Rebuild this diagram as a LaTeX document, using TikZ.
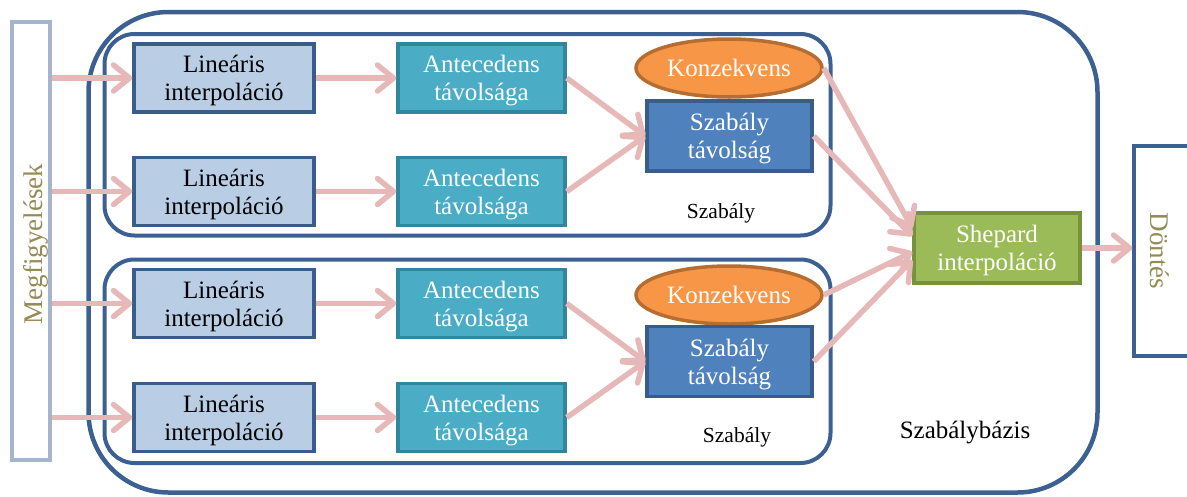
\documentclass[tikz,border=0pt]{standalone}
\usepackage{fontspec}
\setmainfont{Liberation Serif}
\usetikzlibrary{arrows.meta,shapes.geometric}

\definecolor{frameblue}{RGB}{60,96,145}
\definecolor{obsedge}{RGB}{165,181,205}
\definecolor{olivetext}{RGB}{148,138,84}
\definecolor{linfill}{RGB}{185,205,229}
\definecolor{linedge}{RGB}{56,93,138}
\definecolor{antfill}{RGB}{75,172,198}
\definecolor{antedge}{RGB}{49,133,156}
\definecolor{konfill}{RGB}{247,150,70}
\definecolor{konedge}{RGB}{182,109,49}
\definecolor{sztfill}{RGB}{79,129,189}
\definecolor{sztedge}{RGB}{56,93,138}
\definecolor{shfill}{RGB}{155,187,89}
\definecolor{shedge}{RGB}{118,146,60}
\definecolor{flowpink}{RGB}{230,185,184}

\newcommand\boxtextfont{\fontsize{25}{28}\selectfont}
\newcommand\sidetextfont{\fontsize{27}{30}\selectfont}
\newcommand\rulelabelfont{\fontsize{21.5}{24}\selectfont}
\newcommand\baselabelfont{\fontsize{25}{28}\selectfont}

\begin{document}
\begin{tikzpicture}[x=1pt,y=-1pt,
  box/.style={draw, rectangle, line width=3.5pt, inner sep=0pt, align=center,
    minimum height=68pt, text depth=0pt, font=\boxtextfont},
  linbox/.style={box, fill=linfill, draw=linedge, minimum width=180pt, text=black},
  antbox/.style={box, fill=antfill, draw=antedge, minimum width=167pt, text=white},
  sztbox/.style={box, fill=sztfill, draw=sztedge, minimum width=165pt, minimum height=70pt, text=white},
  konoval/.style={draw=konedge, fill=konfill, ellipse, line width=3.5pt, inner sep=0pt,
    minimum width=186pt, minimum height=58pt, text=white, font=\boxtextfont},
  shepbox/.style={box, fill=shfill, draw=shedge, minimum width=166pt, minimum height=70pt, text=white},
  container/.style={draw=frameblue, line width=4.5pt},
  rulelabel/.style={font=\rulelabelfont, text=black, inner sep=0pt},
  flow/.style={draw=flowpink, line width=5.5pt,
    -{Straight Barb[length=16pt,width=26pt,round]}}
]
\clip (0,0) rectangle (1187,496);

% rule base and the two rules
\draw[container, rounded corners=80pt] (88.5,12) rectangle (1097.5,492.5);
\draw[container, line width=4pt, rounded corners=30pt] (104.5,34) rectangle (830.5,235.5);
\draw[container, line width=4pt, rounded corners=30pt] (104.5,259.5) rectangle (830.5,463);
\node[rulelabel] (r1lbl) at (721,213) {Szabály};
\node[rulelabel] (r2lbl) at (737,437) {Szabály};
\node[font=\baselabelfont, inner sep=0pt] (rblbl) at (965,432) {Szabálybázis};

% observations (input) column
\node[draw=obsedge, line width=4pt, fill=white, minimum width=38pt, minimum height=438pt,
  inner sep=0pt] (megf) at (31,241) {};
\node[rotate=90, text=olivetext, font=\sidetextfont, inner sep=0pt] (megftxt) at (36,244) {Megfigyelések};

% decision (output) column
\node[draw=frameblue, line width=3.5pt, fill=white, minimum width=80pt, minimum height=210pt,
  inner sep=0pt] (dont) at (1174,251) {};
\node[rotate=-90, text=olivetext, font=\sidetextfont, inner sep=0pt] (donttxt) at (1160,251) {Döntés};

% linear interpolation boxes
\node[linbox] (lin1) at (224,78) {Lineáris\\interpoláció};
\node[linbox] (lin2) at (224,191.5) {Lineáris\\interpoláció};
\node[linbox] (lin3) at (224,303.5) {Lineáris\\interpoláció};
\node[linbox] (lin4) at (224,417.5) {Lineáris\\interpoláció};

% antecedent distances
\node[antbox] (ant1) at (481.5,78) {Antecedens\\távolsága};
\node[antbox] (ant2) at (481.5,191.5) {Antecedens\\távolsága};
\node[antbox] (ant3) at (481.5,303.5) {Antecedens\\távolsága};
\node[antbox] (ant4) at (481.5,417.5) {Antecedens\\távolsága};

% consequents and rule distances
\node[konoval] (kon1) at (729,68) {Konzekvens};
\node[sztbox] (szt1) at (729.5,136) {Szabály\\távolság};
\node[konoval] (kon2) at (729,295) {Konzekvens};
\node[sztbox] (szt2) at (729.5,361.5) {Szabály\\távolság};

% Shepard interpolation
\node[shepbox] (shep) at (997,248) {Shepard\\interpoláció};

% connectors
\foreach \i in {1,2,3,4} {
  \draw[flow] (megf.east |- lin\i) -- (lin\i.west);
  \draw[flow] (lin\i.east) -- (ant\i.west);
}
\draw[flow] (ant1.east) -- (szt1.west);
\draw[flow] (ant2.east) -- (szt1.west);
\draw[flow] (ant3.east) -- (szt2.west);
\draw[flow] (ant4.east) -- (szt2.west);
\draw[flow] (kon1.east) -- ([yshift=20pt]shep.west);
\draw[flow] (szt1.east) -- ([yshift=12pt]shep.west);
\draw[flow] (kon2.east) -- ([yshift=-4pt]shep.west);
\draw[flow] (szt2.east) -- ([yshift=-12pt]shep.west);
\draw[flow] (shep.east) -- (shep.east -| dont.west);
\end{tikzpicture}
\end{document}
